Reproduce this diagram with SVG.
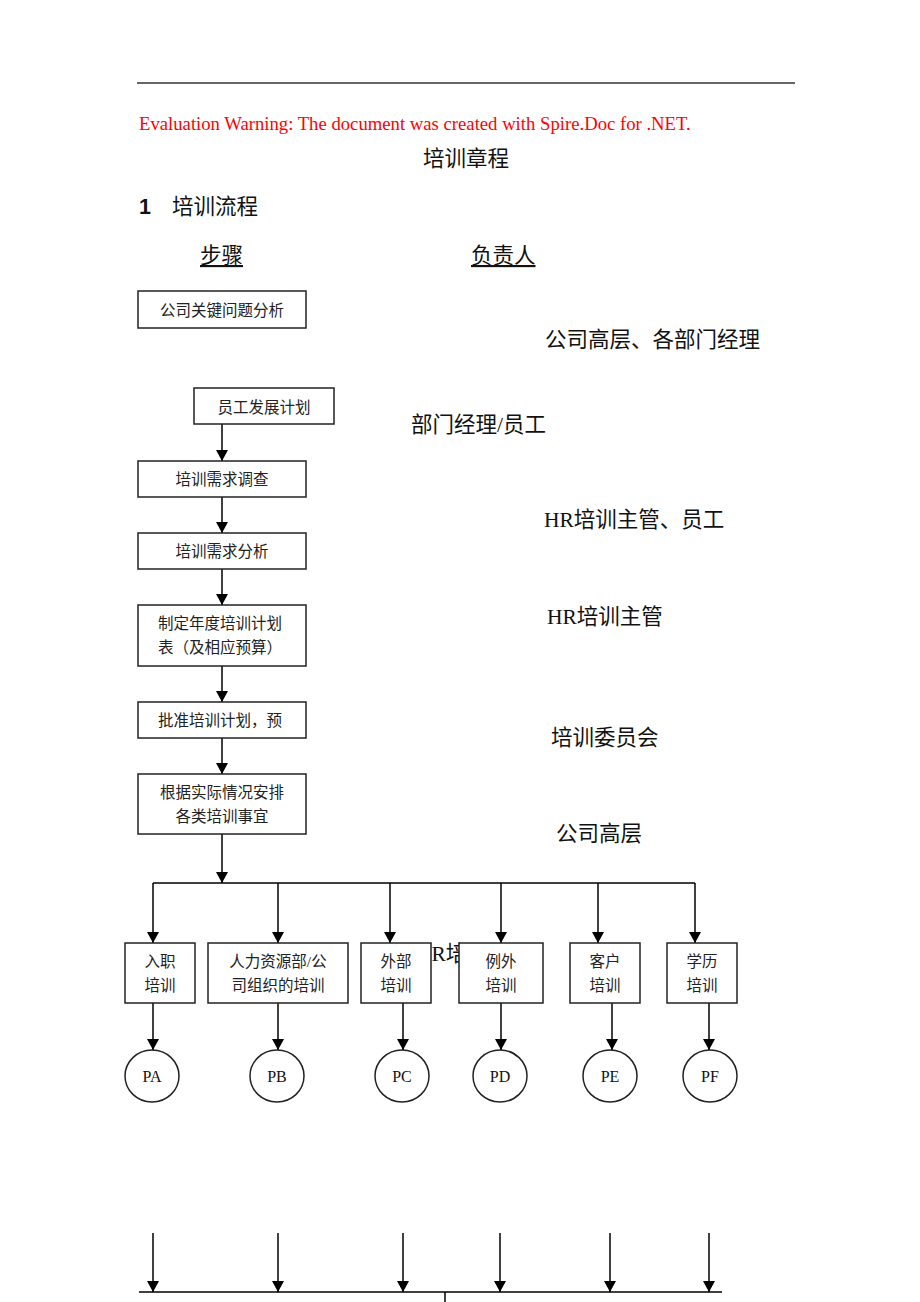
<svg xmlns="http://www.w3.org/2000/svg" width="920" height="1302" viewBox="0 0 920 1302">
<style>
.box{fill:#fff;stroke:#222;stroke-width:1.5}
.ln{fill:none;stroke:#000;stroke-width:1.5}
.arr{fill:none;stroke:#000;stroke-width:1.5;marker-end:url(#ah)}
.bt{font-family:"Liberation Serif","Noto Sans CJK SC",serif;font-size:15.5px;fill:#222}
.rt{font-family:"Liberation Serif","Noto Sans CJK SC",serif;font-size:21.5px;fill:#111}
.hd{font-family:"Liberation Sans","Noto Sans CJK SC",sans-serif;font-size:21.5px;fill:#111}
.ct{font-family:"Liberation Serif",serif;font-size:16px;fill:#111;text-anchor:middle}
</style>
<defs>
<marker id="ah" markerUnits="userSpaceOnUse" markerWidth="11" markerHeight="12" refX="11" refY="6" orient="auto">
<path d="M0,0 L11,6 L0,12 z" fill="#000"/>
</marker>
</defs>
<rect width="920" height="1302" fill="#fff"/>
<line x1="137" y1="83" x2="795" y2="83" stroke="#333" stroke-width="1.5"/>
<text x="139" y="130" style="font-family:'Liberation Serif',serif;font-size:18.7px;fill:#f00">Evaluation Warning: The document was created with Spire.Doc for .NET.</text>
<text x="466" y="166" class="hd" text-anchor="middle">培训章程</text>
<text x="139" y="214" class="hd" font-weight="bold">1</text>
<text x="172" y="214" class="hd">培训流程</text>
<text x="200" y="263" class="rt" text-decoration="underline">步骤</text>
<text x="471" y="263" class="rt" text-decoration="underline">负责人</text>

<g id="labels">
<text x="545" y="347" class="rt">公司高层、各部门经理</text>
<text x="411" y="432" class="rt">部门经理/员工</text>
<text x="544" y="527" class="rt">HR培训主管、员工</text>
<text x="547" y="624" class="rt">HR培训主管</text>
<text x="551" y="745" class="rt">培训委员会</text>
<text x="556" y="841" class="rt">公司高层</text>
<text x="416" y="961" class="rt">HR培</text>
</g>

<g id="connectors">
<line class="arr" x1="222" y1="424" x2="222" y2="461"/>
<line class="arr" x1="222" y1="497" x2="222" y2="533"/>
<line class="arr" x1="222" y1="569" x2="222" y2="605"/>
<line class="arr" x1="222" y1="666" x2="222" y2="702"/>
<line class="arr" x1="222" y1="738" x2="222" y2="774"/>
<line class="arr" x1="222" y1="834" x2="222" y2="883"/>
<line class="ln" x1="153" y1="883" x2="695" y2="883"/>
<line class="arr" x1="153" y1="883" x2="153" y2="943"/>
<line class="arr" x1="278" y1="883" x2="278" y2="943"/>
<line class="arr" x1="390" y1="883" x2="390" y2="943"/>
<line class="arr" x1="501" y1="883" x2="501" y2="943"/>
<line class="arr" x1="598" y1="883" x2="598" y2="943"/>
<line class="arr" x1="695" y1="883" x2="695" y2="943"/>
<line class="arr" x1="153" y1="1003" x2="153" y2="1050"/>
<line class="arr" x1="278" y1="1003" x2="278" y2="1050"/>
<line class="arr" x1="403" y1="1003" x2="403" y2="1050"/>
<line class="arr" x1="501" y1="1003" x2="501" y2="1050"/>
<line class="arr" x1="612" y1="1003" x2="612" y2="1050"/>
<line class="arr" x1="709" y1="1003" x2="709" y2="1050"/>
<line class="arr" x1="153" y1="1233" x2="153" y2="1292"/>
<line class="arr" x1="278" y1="1233" x2="278" y2="1292"/>
<line class="arr" x1="403" y1="1233" x2="403" y2="1292"/>
<line class="arr" x1="500" y1="1233" x2="500" y2="1292"/>
<line class="arr" x1="610" y1="1233" x2="610" y2="1292"/>
<line class="arr" x1="709" y1="1233" x2="709" y2="1292"/>
<line class="ln" x1="139" y1="1292" x2="722" y2="1292"/>
<line class="ln" x1="445" y1="1292" x2="445" y2="1302"/>
</g>

<g id="n1"><rect class="box" x="138" y="291" width="168" height="37"/><text class="bt" x="222" y="316" text-anchor="middle">公司关键问题分析</text></g>
<g id="n2"><rect class="box" x="194" y="388" width="140" height="36"/><text class="bt" x="264" y="413" text-anchor="middle">员工发展计划</text></g>
<g id="n3"><rect class="box" x="138" y="461" width="168" height="36"/><text class="bt" x="222" y="485" text-anchor="middle">培训需求调查</text></g>
<g id="n4"><rect class="box" x="138" y="533" width="168" height="36"/><text class="bt" x="222" y="557" text-anchor="middle">培训需求分析</text></g>
<g id="n5"><rect class="box" x="138" y="605" width="168" height="61"/><text class="bt" x="158" y="629">制定年度培训计划</text><text class="bt" x="158" y="653">表（及相应预算）</text></g>
<g id="n6"><rect class="box" x="138" y="702" width="168" height="36"/><text class="bt" x="158" y="726">批准培训计划，预</text></g>
<g id="n7"><rect class="box" x="138" y="774" width="168" height="60"/><text class="bt" x="222" y="798" text-anchor="middle">根据实际情况安排</text><text class="bt" x="222" y="822" text-anchor="middle">各类培训事宜</text></g>

<g id="b1"><rect class="box" x="125" y="943" width="70" height="60"/><text class="bt" x="160" y="967" text-anchor="middle">入职</text><text class="bt" x="160" y="991" text-anchor="middle">培训</text></g>
<g id="b2"><rect class="box" x="208" y="943" width="140" height="60"/><text class="bt" x="278" y="967" text-anchor="middle">人力资源部/公</text><text class="bt" x="278" y="991" text-anchor="middle">司组织的培训</text></g>
<g id="b3"><rect class="box" x="361" y="943" width="70" height="60"/><text class="bt" x="396" y="967" text-anchor="middle">外部</text><text class="bt" x="396" y="991" text-anchor="middle">培训</text></g>
<g id="b4"><rect class="box" x="459" y="943" width="84" height="60"/><text class="bt" x="501" y="967" text-anchor="middle">例外</text><text class="bt" x="501" y="991" text-anchor="middle">培训</text></g>
<g id="b5"><rect class="box" x="570" y="943" width="70" height="60"/><text class="bt" x="605" y="967" text-anchor="middle">客户</text><text class="bt" x="605" y="991" text-anchor="middle">培训</text></g>
<g id="b6"><rect class="box" x="667" y="943" width="70" height="60"/><text class="bt" x="702" y="967" text-anchor="middle">学历</text><text class="bt" x="702" y="991" text-anchor="middle">培训</text></g>

<g id="pa"><ellipse class="box" cx="152" cy="1076" rx="27" ry="26"/><text class="ct" x="152" y="1082">PA</text></g>
<g id="pb"><ellipse class="box" cx="277" cy="1076" rx="27" ry="26"/><text class="ct" x="277" y="1082">PB</text></g>
<g id="pc"><ellipse class="box" cx="402" cy="1076" rx="27" ry="26"/><text class="ct" x="402" y="1082">PC</text></g>
<g id="pd"><ellipse class="box" cx="500" cy="1076" rx="27" ry="26"/><text class="ct" x="500" y="1082">PD</text></g>
<g id="pe"><ellipse class="box" cx="610" cy="1076" rx="27" ry="26"/><text class="ct" x="610" y="1082">PE</text></g>
<g id="pf"><ellipse class="box" cx="710" cy="1076" rx="27" ry="26"/><text class="ct" x="710" y="1082">PF</text></g>
</svg>
